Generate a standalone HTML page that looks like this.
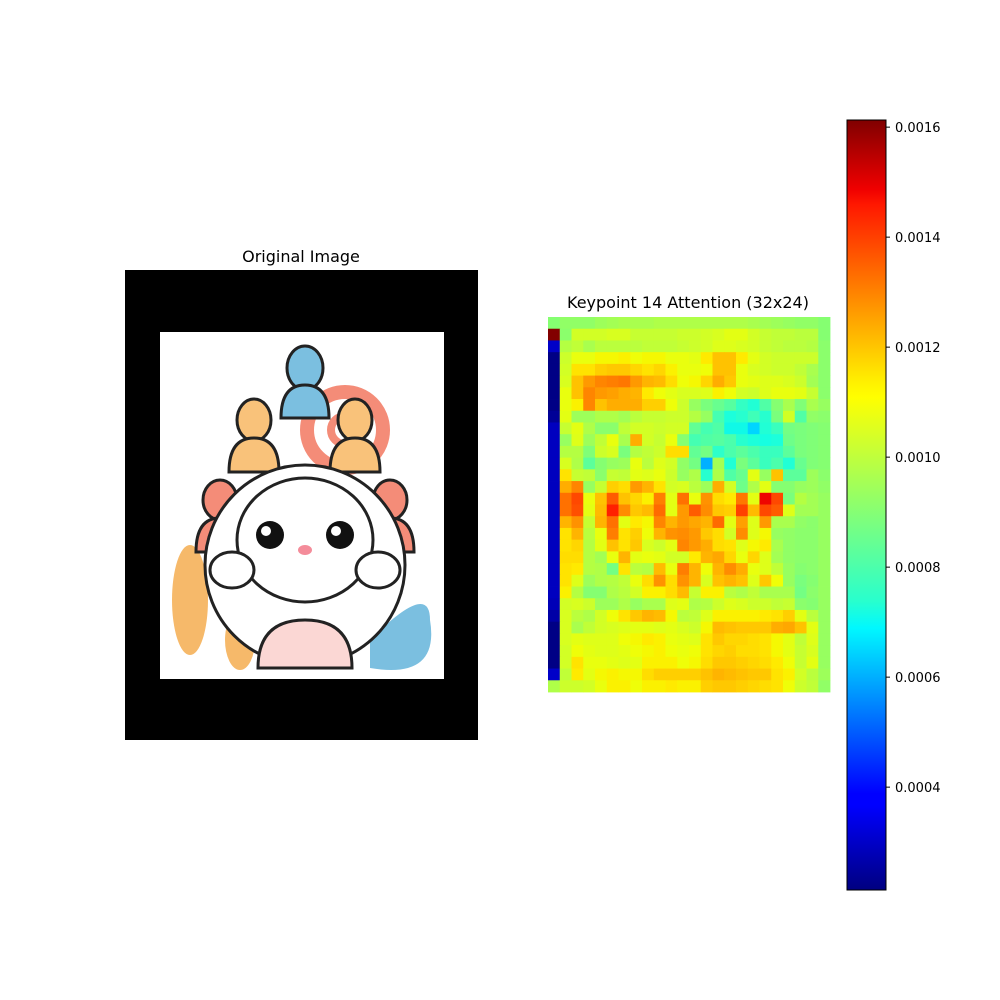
<!DOCTYPE html>
<html><head><meta charset="utf-8"><style>
body{margin:0;background:#fff;}
svg{display:block;font-family:"DejaVu Sans","Liberation Sans",sans-serif;}
</style></head><body>
<svg id="fig" width="1000" height="1000" viewBox="0 0 1000 1000">
<rect width="1000" height="1000" fill="#fff"/>
<text x="301" y="262" font-size="16" text-anchor="middle">Original Image</text>
<g>
<rect x="125" y="270" width="353" height="470" fill="#000"/>
<rect x="160" y="332" width="284" height="347" fill="#fff"/>
<ellipse cx="190" cy="600" rx="18" ry="55" fill="#f6b96a"/>
<ellipse cx="240" cy="640" rx="15" ry="30" fill="#f6b96a"/>
<path d="M370 640 Q430 580 430 620 Q440 680 370 668 Z" fill="#7bbfe0"/>
<circle cx="345" cy="430" r="38" fill="none" stroke="#f48c78" stroke-width="14"/>
<circle cx="345" cy="430" r="14" fill="none" stroke="#f48c78" stroke-width="8"/>
<ellipse cx="305" cy="368" rx="18" ry="22" fill="#7bbfe0" stroke="#222" stroke-width="3"/>
<path d="M281 418 Q281 385 305 385 Q329 385 329 418 Z" fill="#7bbfe0" stroke="#222" stroke-width="3"/>
<ellipse cx="254" cy="420" rx="17" ry="21" fill="#f9c27a" stroke="#222" stroke-width="3"/>
<path d="M229 472 Q229 438 254 438 Q279 438 279 472 Z" fill="#f9c27a" stroke="#222" stroke-width="3"/>
<ellipse cx="355" cy="420" rx="17" ry="21" fill="#f9c27a" stroke="#222" stroke-width="3"/>
<path d="M330 472 Q330 438 355 438 Q380 438 380 472 Z" fill="#f9c27a" stroke="#222" stroke-width="3"/>
<ellipse cx="220" cy="500" rx="17" ry="20" fill="#f48c78" stroke="#222" stroke-width="3"/>
<path d="M196 552 Q196 518 220 518 Q244 518 244 552 Z" fill="#f48c78" stroke="#222" stroke-width="3"/>
<ellipse cx="390" cy="500" rx="17" ry="20" fill="#f48c78" stroke="#222" stroke-width="3"/>
<path d="M366 552 Q366 518 390 518 Q414 518 414 552 Z" fill="#f48c78" stroke="#222" stroke-width="3"/>
<circle cx="305" cy="565" r="100" fill="#fff" stroke="#222" stroke-width="3"/>
<ellipse cx="305" cy="540" rx="68" ry="62" fill="#fff" stroke="#222" stroke-width="3"/>
<circle cx="270" cy="535" r="14" fill="#111"/><circle cx="340" cy="535" r="14" fill="#111"/>
<circle cx="266" cy="531" r="5" fill="#fff"/><circle cx="336" cy="531" r="5" fill="#fff"/>
<ellipse cx="305" cy="550" rx="7" ry="5" fill="#f48c9a"/>
<path d="M258 668 Q258 620 305 620 Q352 620 352 668 Z" fill="#fbd7d4" stroke="#222" stroke-width="3"/>
<ellipse cx="232" cy="570" rx="22" ry="18" fill="#fff" stroke="#222" stroke-width="3"/>
<ellipse cx="378" cy="570" rx="22" ry="18" fill="#fff" stroke="#222" stroke-width="3"/>
</g>
<text x="688" y="308" font-size="16" text-anchor="middle">Keypoint 14 Attention (32x24)</text>
<g id="heat"></g>
<defs><linearGradient id="jetg" x1="0" y1="1" x2="0" y2="0">
<stop offset="0" stop-color="#000080"/><stop offset="0.11" stop-color="#0000ff"/>
<stop offset="0.125" stop-color="#0000ff"/><stop offset="0.34" stop-color="#00f8ff"/>
<stop offset="0.375" stop-color="#28ffce"/><stop offset="0.64" stop-color="#ffff00"/>
<stop offset="0.66" stop-color="#fff000"/><stop offset="0.89" stop-color="#ff1800"/>
<stop offset="0.91" stop-color="#f00000"/><stop offset="1" stop-color="#800000"/>
</linearGradient></defs>
<rect x="847" y="120" width="39" height="770" fill="url(#jetg)" stroke="#000" stroke-width="1"/>
<g id="cbticks"></g>
</svg>
<script>
const nRows = 32, nCols = 24;
const vmin = 2.13, vmax = 16.13; // units of 1e-4
const cbTicks = [0.0004, 0.0006, 0.0008, 0.0010, 0.0012, 0.0014, 0.0016];
const cbTickLabels = ["0.0004","0.0006","0.0008","0.0010","0.0012","0.0014","0.0016"];
const values = [
[9.3,9.5,9.5,9.5,9.7,9.8,9.9,9.9,9.9,10,10,10,10,10,10,10,10,9.9,9.8,9.7,9.6,9.5,9.5,9.3],
[16.1,9.4,10.6,10.6,10.6,10.7,10.7,10.4,10.4,10.4,10.4,10.5,10.5,10.6,10.7,10.9,10.9,10.6,10.4,10.3,10.3,10.2,10.2,9.3],
[3.0,10.1,10.3,9.9,10.2,10.2,10.2,10.2,10.3,10.3,10.3,10.4,10.5,10.6,10.8,10.8,10.7,10.6,10.4,10.3,10.2,10.2,10.1,9.4],
[2.2,10.5,11.0,11.0,11.2,11.2,11.3,11.1,11.2,11.2,11.0,11.0,10.9,11.4,12.0,12.0,11.4,10.9,10.6,10.5,10.5,10.5,10.5,9.4],
[2.2,10.6,11.5,11.5,11.8,11.9,11.9,11.7,11.5,11.7,11.3,11.0,11.0,11.1,12.0,12.0,11.0,10.7,10.6,10.5,10.5,10.3,9.9,9.4],
[2.2,10.7,12.0,12.6,12.9,13.0,13.1,12.6,12.2,12.1,11.6,11.1,11.2,11.7,12.3,11.9,11.0,10.9,10.8,10.8,10.7,10.5,9.8,9.4],
[2.2,11.0,12.0,12.9,12.6,12.5,12.3,12.2,11.4,11.1,10.9,10.7,10.7,10.8,11.3,11.1,10.6,10.5,10.8,11.0,11.0,10.9,10.4,9.4],
[2.2,11.0,11.3,12.9,12.0,12.3,12.3,12.3,11.8,11.8,11.1,10.5,9.6,9.1,8.8,8.5,7.9,7.6,8.4,9.3,9.9,9.2,9.9,9.6],
[2.4,10.9,9.7,9.7,10.0,10.0,9.8,10.2,10.4,10.4,10.5,10.5,10.1,9.6,8.2,7.5,7.7,8.1,7.7,9.1,10.6,8.4,9.5,9.4],
[2.9,10.4,10.9,10.0,9.4,9.4,10.3,10.6,10.6,10.5,10.6,10.6,8.7,8.2,8.4,7.3,7.3,6.8,7.6,8.0,9.0,9.1,9.2,9.3],
[2.9,9.6,10.8,9.7,10.3,11.0,9.9,12.3,10.6,10.4,11.0,9.3,8.2,8.4,8.5,8.3,7.7,7.5,7.4,7.5,8.9,9.1,9.2,9.3],
[2.9,10.1,10.1,9.2,10.5,10.7,9.1,10.1,10.3,10.5,11.6,11.6,8.7,9.0,7.8,8.3,8.6,8.3,8.0,8.0,8.6,9.1,9.2,9.3],
[2.9,10.7,10.0,8.6,9.3,9.6,9.7,11.0,10.2,10.8,10.6,9.5,9.0,6.3,9.8,7.6,9.1,8.6,8.0,8.3,7.6,8.8,9.2,9.3],
[2.9,11.5,10.4,10.3,9.4,10.4,10.3,10.9,10.8,11.0,10.5,9.6,10.0,7.7,10.0,8.4,8.8,10.9,9.6,12.0,8.6,8.6,9.7,9.4],
[2.9,12.3,12.9,9.6,10.4,11.8,11.6,12.6,12.2,11.5,10.6,10.7,10.2,9.7,12.3,10.6,8.9,10.0,10.9,9.3,9.3,9.6,9.7,9.5],
[2.9,13.2,13.8,11.0,12.0,13.5,12.0,11.7,11.3,13.0,10.9,13.2,11.0,12.7,11.6,11.4,13.1,10.9,14.8,13.8,9.1,10.1,9.8,9.6],
[2.9,13.2,13.7,10.9,12.1,14.4,12.8,11.9,12.1,13.3,10.9,12.6,13.5,12.8,11.9,11.8,13.9,12.1,13.8,13.5,10.8,9.8,9.8,9.6],
[2.9,12.2,12.7,10.4,12.2,13.2,10.9,11.4,11.2,12.9,12.2,12.6,12.4,12.2,13.3,10.9,12.5,10.8,12.6,9.9,9.9,9.5,9.4,9.6],
[2.9,11.5,12.2,10.2,11.0,13.0,11.5,11.8,11.1,12.2,12.7,12.8,12.6,11.9,11.6,10.6,12.8,10.8,11.2,9.6,9.5,9.4,9.4,9.6],
[2.9,11.5,11.7,10.1,10.9,12.0,11.5,11.9,10.7,10.5,10.9,12.9,12.6,12.3,11.6,11.5,10.8,11.2,11.4,9.9,9.5,9.4,9.4,9.6],
[2.9,11.6,11.6,10.1,9.8,11.0,12.2,10.9,11.0,10.9,10.6,10.6,11.4,12.2,12.4,11.7,11.0,11.7,10.8,9.8,9.5,9.4,9.4,9.6],
[2.9,11.5,11.4,10.1,10.0,9.0,11.5,10.2,10.1,12.1,11.0,13.0,12.2,11.1,12.2,12.8,12.3,11.0,10.8,10.3,9.6,9.3,9.4,9.6],
[2.9,11.5,10.8,9.7,10.0,10.1,10.3,11.0,11.6,12.7,11.6,12.7,12.2,10.7,12.0,12.2,12.0,10.8,11.9,11.1,9.6,9.1,9.3,9.6],
[2.9,11.3,10.1,9.3,9.3,10.0,10.2,10.6,11.3,11.3,11.6,12.1,10.4,11.3,11.3,10.2,10.0,10.3,9.9,9.9,9.9,9.0,9.4,9.6],
[2.8,10.6,10.7,10.5,9.7,9.7,10.0,9.6,9.9,9.9,10.8,10.9,10.0,10.1,10.5,10.8,10.7,10.5,10.5,10.3,10.4,9.4,9.3,9.6],
[2.6,10.7,10.2,10.0,10.6,11.1,11.5,11.9,12.2,12.1,11.2,10.2,10.3,10.8,11.3,11.3,11.3,11.3,11.4,11.5,11.8,10.9,10.2,9.6],
[2.2,10.7,9.9,10.3,10.6,10.7,10.8,10.9,10.9,10.8,10.9,10.7,10.5,11.2,12.1,12.0,11.9,11.9,11.9,12.3,12.4,12.0,10.9,9.6],
[2.2,10.7,10.9,10.8,10.8,10.8,11.1,11.2,11.4,11.3,11.0,10.9,10.8,11.5,11.9,11.7,11.7,11.6,11.5,11.2,10.9,10.3,10.8,9.6],
[2.2,10.6,11.1,10.9,10.8,10.8,10.9,11.1,11.2,11.3,11.1,11.0,11.1,11.5,11.7,11.8,11.6,11.6,11.5,11.2,10.9,10.4,10.7,9.6],
[2.2,10.6,11.5,11.0,11.0,10.9,10.8,10.9,11.3,11.3,11.3,11.1,11.2,11.6,11.9,11.9,11.8,11.7,11.6,11.4,11.1,10.4,10.9,9.6],
[3.0,10.3,11.4,10.9,11.2,11.3,11.2,11.2,11.6,11.8,11.8,11.8,11.8,12.0,12.2,12.1,12.0,11.9,11.9,11.5,11.3,10.6,10.2,9.7],
[10.0,10.5,10.5,10.6,11.0,11.3,11.3,11.1,11.3,11.3,11.4,11.3,11.3,11.8,11.9,11.9,11.8,11.7,11.6,11.5,11.1,10.5,10.3,9.5]
];
function interp(pts,t){for(let i=1;i<pts.length;i++){if(t<=pts[i][0]){const a=pts[i-1],b=pts[i];return a[1]+(b[1]-a[1])*(t-a[0])/(b[0]-a[0]);}}return pts[pts.length-1][1];}
const R=[[0,0],[0.35,0],[0.66,1],[0.89,1],[1,0.5]],G=[[0,0],[0.125,0],[0.375,1],[0.64,1],[0.91,0],[1,0]],B=[[0,0.5],[0.11,1],[0.34,1],[0.65,0],[1,0]];
function jet(v){let t=(v-vmin)/(vmax-vmin);t=Math.max(0,Math.min(1,t));const f=x=>Math.round(255*x);return `rgb(${f(interp(R,t))},${f(interp(G,t))},${f(interp(B,t))})`;}
const hx0=548,hx1=830,hy0=317,hy1=692;
const xScale=c=>hx0+(hx1-hx0)*c/nCols, yScale=r=>hy0+(hy1-hy0)*r/nRows;
const NS="http://www.w3.org/2000/svg";
const heat=document.getElementById('heat');
values.forEach((row,r)=>row.forEach((v,c)=>{
 const el=document.createElementNS(NS,'rect');
 el.setAttribute('x',xScale(c));el.setAttribute('y',yScale(r));
 el.setAttribute('width',xScale(c+1)-xScale(c)+0.4);el.setAttribute('height',yScale(r+1)-yScale(r)+0.4);
 el.setAttribute('fill',jet(v));
 
 
 heat.appendChild(el);
}));
const cbY=v=>890-(v*1e4-vmin)/(vmax-vmin)*770;
const cb=document.getElementById('cbticks');
cbTicks.forEach((v,i)=>{
 const y=cbY(v);
 const ln=document.createElementNS(NS,'line');
 ln.setAttribute('x1',886);ln.setAttribute('x2',890);ln.setAttribute('y1',y);ln.setAttribute('y2',y);ln.setAttribute('stroke','#000');
 
 
 cb.appendChild(ln);
 const tx=document.createElementNS(NS,'text');
 tx.setAttribute('x',895);tx.setAttribute('y',y+5);tx.setAttribute('font-size','13');
 tx.textContent=cbTickLabels[i];
 
 
 cb.appendChild(tx);
});
</script>
</body></html>
